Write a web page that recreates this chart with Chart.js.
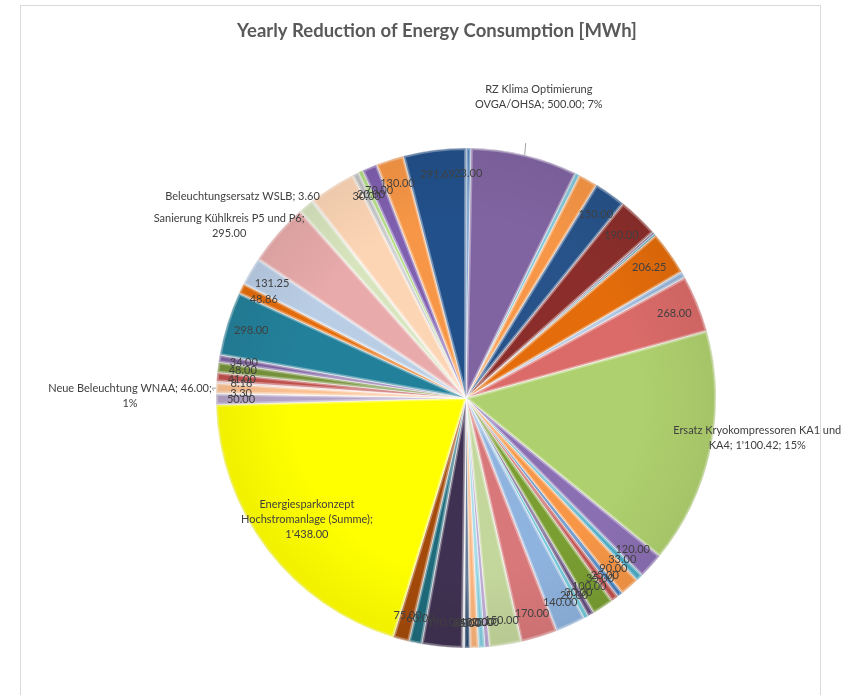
<!DOCTYPE html>
<html>
<head>
<meta charset="utf-8">
<script src="https://cdn.jsdelivr.net/npm/chart.js@4.4.0/dist/chart.umd.min.js"></script>
<style>
    html, body { margin: 0; padding: 0; background: #fff; }
</style>
</head>
<body>
<canvas id="ChartEnergie" width="844" height="695"></canvas>
<script>

// Massnahmen (clockwise from 12 o'clock); only some carry a name in the chart
const massnahmen = [
    '', 'RZ Klima Optimierung OVGA/OHSA', '', '', '', '', '', '', '', '', '',
    'Ersatz Kryokompressoren KA1 und KA4',
    '', '', '', '', '', '', '', '', '', '', '', '', '', '', '', '', '', '', '',
    'Energiesparkonzept Hochstromanlage (Summe)',
    '', '', 'Neue Beleuchtung WNAA', '', '', '', '', '', '', '',
    'Sanierung Kühlkreis P5 und P6', '', 'Beleuchtungsersatz WSLB', '', '', '', '', '', ''
];

// Jaehrliche Einsparung in MWh
const einsparung = [
    23, 500, 20, 90, 150, 190, 10, 10, 206.25, 30, 268, 1100.42,
    120, 33, 90, 25, 35, 100, 30, 20, 140, 170, 150, 20, 30, 40, 25, 8, 190, 60, 75,
    1438, 50, 3.3, 46, 8.18, 41, 48, 34, 298, 48.86, 131.25, 295, 72, 3.6, 219, 30, 20, 70, 130, 291.69
];

// Massnahmen mit Prozentangabe im Label
const mitProzent = [1, 11, 34];

// Slices ohne Wertlabel
const ohneLabel = [2, 3, 6, 7, 9, 43, 45];

const farben = [
    '#4A7EBB', '#8064A2', '#4BACC6', '#F79646', '#27538A', '#8B2E2B', '#5F497A', '#31859C',
    '#E46C0A', '#95B3D7', '#DA6B69', '#AFD06E',
    '#8B6FB3', '#4BACC6', '#F79646', '#2E6DB4', '#C0504D', '#7A9E32', '#604A7B', '#31B0C6',
    '#8EB3DE', '#D9787A', '#C3D69B', '#9C7FC0', '#7FCBDD', '#F9B27A', '#17375E', '#D9D9D9',
    '#3F3151', '#1E6B7B', '#A44A0A',
    '#FFFF00', '#B3A2C7', '#F2DCDB', '#FAC090', '#E6B9B8', '#C0504D', '#77933C', '#8064A2',
    '#23809A', '#E46C0A', '#B9CDE5', '#E8AAAA', '#D7E4BD', '#BFBFBF', '#FCD5B5', '#C0C0C0',
    '#92D050', '#7F5FAF', '#F79646', '#22508A'
];

// placement of the named labels, relative to the slice
const namenLabels = {
    1:  { extra: 60,  dWinkel: 0,   breite: 140, linie: true },
    11: { extra: 44,  dWinkel: -4,  breite: 178 },
    31: { extra: -50, dWinkel: 0,   breite: 150 },
    34: { extra: 86,  dWinkel: -2,  breite: 172, linie: true },
    42: { extra: 43,  dWinkel: -5,  breite: 165 },
    44: { extra: 51,  dWinkel: -10, breite: 220 }
};

const FormatZahl = (v) => {
    const teile = v.toFixed(2).split('.');
    teile[0] = teile[0].replace(/\B(?=(\d{3})+(?!\d))/g, "'");
    return teile.join('.');
};

const Umbrechen = (ctx, text, breite) => {
    const woerter = text.split(' ');
    const zeilen = [];
    let zeile = '';
    woerter.forEach(w => {
        const test = zeile ? zeile + ' ' + w : w;
        if (ctx.measureText(test).width > breite && zeile) {
            zeilen.push(zeile);
            zeile = w;
        } else {
            zeile = test;
        }
    });
    zeilen.push(zeile);
    return zeilen;
};

const rahmenPlugin = {
    id: 'rahmen',
    beforeDraw: (chart) => {
        const ctx = chart.ctx;
        ctx.save();
        ctx.strokeStyle = '#D9D9D9';
        ctx.lineWidth = 1;
        ctx.strokeRect(20.5, 5.5, 800, 720);
        ctx.fillStyle = '#595959';
        ctx.font = 'bold 18.5px Lato';
        ctx.textAlign = 'center';
        ctx.textBaseline = 'middle';
        ctx.fillText('Yearly Reduction of Energy Consumption [MWh]', 437, 31);
        ctx.restore();
    }
};

// bevel look: light edges per slice and a slightly darker rim
const bevelPlugin = {
    id: 'bevel',
    afterDatasetsDraw: (chart) => {
        const ctx = chart.ctx;
        const meta = chart.getDatasetMeta(0);
        ctx.save();
        meta.data.forEach((arc) => {
            const p = arc.getProps(['x', 'y', 'startAngle', 'endAngle', 'outerRadius'], true);
            ctx.save();
            ctx.beginPath();
            ctx.moveTo(p.x, p.y);
            ctx.arc(p.x, p.y, p.outerRadius, p.startAngle, p.endAngle);
            ctx.closePath();
            ctx.clip();
            ctx.strokeStyle = 'rgba(255,255,255,0.35)';
            ctx.lineWidth = 4;
            ctx.stroke();
            ctx.restore();
        });
        const a0 = meta.data[0].getProps(['x', 'y', 'outerRadius'], true);
        const grad = ctx.createRadialGradient(a0.x, a0.y, a0.outerRadius * 0.7, a0.x, a0.y, a0.outerRadius);
        grad.addColorStop(0, 'rgba(0,0,0,0)');
        grad.addColorStop(1, 'rgba(0,0,0,0.06)');
        ctx.fillStyle = grad;
        ctx.beginPath();
        ctx.arc(a0.x, a0.y, a0.outerRadius, 0, Math.PI * 2);
        ctx.fill();
        ctx.restore();
    }
};

const labelPlugin = {
    id: 'werte',
    afterDatasetsDraw: (chart) => {
        const ctx = chart.ctx;
        const meta = chart.getDatasetMeta(0);
        const total = einsparung.reduce((a, b) => a + b, 0);
        ctx.save();
        ctx.font = '11px Lato';
        ctx.fillStyle = '#404040';
        ctx.textAlign = 'center';
        ctx.textBaseline = 'middle';

        meta.data.forEach((arc, i) => {
            const p = arc.getProps(['x', 'y', 'startAngle', 'endAngle', 'outerRadius'], true);
            const mitte = (p.startAngle + p.endAngle) / 2;
            const wert = einsparung[i];
            const nl = namenLabels[i];

            if (nl) {
                let text = massnahmen[i] + '; ' + FormatZahl(wert);
                if (mitProzent.includes(i)) text += '; ' + Math.round(wert / total * 100) + '%';
                const w = mitte + nl.dWinkel * Math.PI / 180;
                const r = p.outerRadius + nl.extra;
                const lx = p.x + r * Math.cos(w);
                const ly = p.y + r * Math.sin(w);
                const zeilen = Umbrechen(ctx, text, nl.breite);
                const zh = 15;
                const y0 = ly - (zeilen.length - 1) * zh / 2;
                zeilen.forEach((z, k) => ctx.fillText(z, lx, y0 + k * zh));

                if (nl.linie) {
                    const rx = p.x + p.outerRadius * Math.cos(mitte);
                    const ry = p.y + p.outerRadius * Math.sin(mitte);
                    ctx.save();
                    ctx.strokeStyle = '#A6A6A6';
                    ctx.lineWidth = 1;
                    ctx.beginPath();
                    if (i === 1) {
                        ctx.moveTo(rx, ry);
                        ctx.lineTo(rx + 1, ry - 12);
                    } else {
                        const breiteZ = ctx.measureText(zeilen[0]).width;
                        ctx.moveTo(rx, ry);
                        ctx.lineTo(rx - 4, ry);
                        ctx.lineTo(lx + breiteZ / 2 + 2, y0 + 2);
                    }
                    ctx.stroke();
                    ctx.restore();
                }
                return;
            }

            if (ohneLabel.includes(i)) return;
            const r = p.outerRadius * 0.9;
            ctx.fillText(FormatZahl(wert), p.x + r * Math.cos(mitte), p.y + r * Math.sin(mitte));
        });
        ctx.restore();
    }
};

var ctxEnergie = document.getElementById('ChartEnergie');
var ChartEnergie = new Chart(ctxEnergie, {
    type: 'pie',
    data: {
        labels: massnahmen,
        datasets: [{
            label: 'MWh',
            data: einsparung,
            backgroundColor: farben,
            borderColor: 'rgba(255,255,255,0.5)',
            borderWidth: 1,
            radius: 250,
            hoverOffset: 0
        }]
    },
    options: {
        responsive: false,
        animation: false,
        layout: {
            padding: { left: 216, right: 128, top: 148, bottom: 47 }
        },
        plugins: {
            legend: { display: false },
            tooltip: { enabled: false },
            title: { display: false }
        }
    },
    plugins: [rahmenPlugin, bevelPlugin, labelPlugin]
});
</script>
</body>
</html>
